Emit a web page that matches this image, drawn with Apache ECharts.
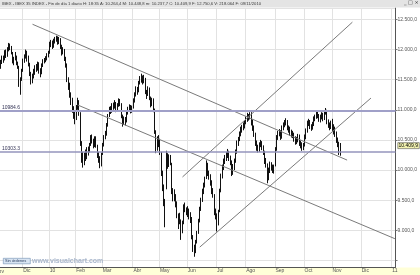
<!DOCTYPE html>
<html><head><meta charset="utf-8">
<script src="https://cdn.jsdelivr.net/npm/echarts@6/dist/echarts.min.js"></script>
<style>html,body{margin:0;padding:0;background:#fff}#c{width:420px;height:275px}</style>
</head><body><div id="c"></div>
<script>
// ---- data ----
const holidays = ['2009-12-24','2009-12-25','2009-12-31','2010-01-01','2010-04-02','2010-04-05'];
const firstDay = [2009, 10, 6];   // 6 Nov 2009
const lastDay = [2011, 0, 5];     // 5 Jan 2011
const monthKeys = ['2009-11','2009-12','2010-01','2010-02','2010-03','2010-04','2010-05','2010-06','2010-07','2010-08','2010-09','2010-10','2010-11','2010-12','2011-01'];
const monthNames = ['Nov','Dic','10','Feb','Mar','Abr','May','Jun','Jul','Ago','Sep','Oct','Nov','Dic','11'];
// [open, close, low, high]
const ohlc = [
[11720,11780,11680,11830],[11790,11850,11760,11900],[11860,11830,11780,11900],[11840,11960,11820,11990],[11950,11900,11860,12000],
[11910,12010,11880,12040],[12000,12080,11970,12110],[12070,12040,11990,12100],[12040,11950,11920,12060],[11940,11800,11770,11960],
[11800,11830,11740,11880],[11850,11880,11820,11960],[11880,11770,11740,11900],[11770,11720,11680,11800],[11700,11420,11380,11730],
[11380,11500,11250,11540],[11510,11640,11480,11680],
[11650,11820,11630,11850],[11820,11880,11780,11920],[11880,11930,11850,12000],[11920,11890,11800,11980],[11880,11760,11720,11900],
[11760,11600,11560,11780],[11600,11480,11420,11630],[11480,11550,11440,11600],[11560,11620,11520,11680],[11620,11700,11580,11740],
[11700,11680,11630,11760],[11680,11760,11650,11800],[11760,11650,11600,11790],[11650,11600,11540,11690],[11610,11740,11590,11770],
[11740,11800,11710,11840],[11800,11820,11770,11860],[11830,11850,11790,11890],[11850,11900,11820,11940],[11900,11940,11870,11980],
[11950,12100,11930,12130],[12100,12120,12040,12160],[12110,12060,12010,12150],[12060,12150,12030,12180],[12150,12170,12100,12210],
[12180,12200,12130,12230],[12200,12130,12080,12220],[12130,12180,12090,12210],[12170,12050,12010,12190],[12040,11950,11900,12080],
[11960,11990,11920,12040],[11990,11850,11810,12010],[11840,11760,11700,11880],[11750,11500,11460,11770],[11490,11380,11330,11540],
[11400,11250,11200,11450],[11240,11150,11080,11290],[11160,11000,10950,11200],[10990,10900,10850,11060],[10920,10850,10760,10990],
[10860,11050,10830,11080],[11050,11150,11000,11200],[11140,10950,10900,11160],[10930,10450,10400,10960],[10420,10200,10120,10480],
[10220,10100,10040,10300],[10120,10250,10080,10290],[10260,10200,10150,10340],[10210,10350,10180,10380],[10340,10300,10240,10390],
[10310,10420,10290,10450],[10420,10550,10400,10580],[10540,10480,10440,10590],[10480,10400,10360,10520],[10400,10520,10380,10560],
[10520,10400,10370,10560],[10390,10250,10200,10420],[10250,10180,10120,10300],[10170,10080,10030,10230],[10090,10250,10060,10290],
[10270,10420,10250,10450],[10420,10550,10390,10580],[10550,10600,10510,10650],[10600,10750,10570,10780],[10750,10900,10720,10930],
[10910,11020,10880,11050],[11010,10980,10930,11060],[10980,11080,10950,11110],[11080,11050,11000,11120],[11050,11120,11020,11160],
[11110,11000,10960,11130],[11000,11080,10980,11110],[11080,11150,11050,11190],[11150,11100,11060,11180],[11090,10900,10860,11110],
[10880,10780,10720,10920],[10790,10850,10750,10890],[10850,10800,10740,10880],[10810,10950,10790,10990],[10950,11000,10920,11050],
[11000,11050,10970,11090],[11050,10980,10940,11080],[10980,11030,10950,11070],
[11050,11150,11020,11190],[11160,11250,11120,11290],[11240,11350,11220,11390],[11340,11300,11250,11380],[11310,11450,11290,11480],
[11460,11500,11420,11560],[11500,11540,11450,11600],[11530,11480,11420,11570],[11480,11520,11440,11580],[11510,11300,11260,11530],
[11290,11250,11180,11330],[11260,11350,11230,11390],[11340,11200,11160,11370],[11190,11100,11040,11220],[11100,11150,11060,11200],
[11160,11000,10960,11190],[10990,10650,10600,11020],[10630,10350,10280,10660],[10360,10500,10320,10560],[10500,10450,10380,10580],
[10470,10300,10250,10520],[10280,9950,9900,10300],[9940,9700,9650,9990],[9690,9500,9400,9760],[9480,9150,9050,9520],
[9700,10250,9680,10320],[10200,10100,10020,10280],[10100,10200,10050,10260],[10200,10150,10080,10250],[10100,9650,9600,10120],
[9620,9600,9480,9700],[9610,9550,9480,9680],[9530,9450,9380,9600],[9420,9250,9200,9480],[9200,9150,9020,9280],
[9170,9200,9100,9290],[9150,8950,8840,9180],[8980,9100,8950,9160],[9120,9400,9100,9430],[9400,9350,9300,9460],[9340,9300,9250,9380],
[9310,9350,9220,9400],[9330,9250,9180,9360],[9260,9200,9120,9300],[9190,8900,8850,9220],[8880,8700,8640,8920],
[8700,8650,8560,8760],[8660,8800,8620,8840],[8810,8950,8780,8990],[8960,9150,8940,9190],[9160,9350,9130,9390],
[9350,9500,9320,9540],[9500,9650,9470,9690],[9640,9750,9600,9790],[9750,9850,9710,9890],[9870,10100,9850,10160],
[10090,9950,9900,10120],[9950,9900,9840,9990],[9900,9800,9740,9930],[9800,9650,9600,9830],[9660,9600,9540,9700],
[9580,9300,9250,9600],[9300,9250,9180,9360],
[9240,9100,8980,9280],[9110,9300,9080,9340],[9320,9650,9300,9690],[9660,9900,9630,9940],[9890,10050,9860,10090],
[10040,10150,10000,10190],[10150,10200,10100,10250],[10200,10250,10150,10300],[10250,10300,10200,10350],[10290,10200,10150,10320],
[10200,10150,10080,10240],[10140,9950,9900,10160],[9960,10050,9920,10100],[10050,10150,10000,10190],[10150,10300,10120,10340],
[10300,10450,10270,10490],[10450,10500,10400,10550],[10510,10600,10480,10640],[10600,10680,10560,10720],[10670,10700,10620,10750],
[10700,10750,10660,10790],[10740,10780,10690,10820],
[10800,10850,10760,10890],[10850,10900,10800,10950],[10890,10870,10820,10930],[10880,10950,10840,10960],[10940,10800,10740,10960],
[10800,10700,10650,10840],[10700,10600,10550,10740],[10590,10450,10400,10620],[10450,10380,10320,10490],[10380,10350,10290,10420],
[10350,10420,10300,10460],[10420,10450,10380,10500],[10440,10380,10330,10480],[10380,10300,10250,10410],[10290,10150,10100,10320],
[10160,10100,10040,10200],[10090,9850,9780,10110],[9860,10000,9830,10040],[10000,10100,9950,10140],[10090,10050,9990,10130],
[10050,10000,9950,10090],[9990,10050,9940,10090],
[10080,10350,10060,10380],[10350,10550,10320,10580],[10550,10600,10500,10650],[10600,10620,10560,10680],[10610,10550,10500,10660],
[10550,10700,10520,10740],[10700,10750,10660,10790],[10750,10780,10710,10830],[10790,10800,10740,10860],[10800,10700,10660,10830],
[10700,10680,10620,10740],[10680,10620,10570,10720],[10620,10600,10540,10670],[10610,10580,10530,10650],[10580,10520,10470,10620],
[10510,10480,10420,10560],[10480,10500,10430,10550],[10500,10550,10460,10600],[10550,10450,10400,10590],[10450,10420,10360,10490],
[10420,10380,10320,10460],[10380,10400,10330,10450],
[10420,10550,10390,10590],[10550,10650,10510,10690],[10650,10780,10620,10820],[10780,10800,10730,10850],[10800,10720,10680,10830],
[10720,10700,10650,10760],[10710,10760,10670,10800],[10760,10850,10730,10890],[10850,10880,10810,10920],[10880,10950,10850,10990],
[10950,10900,10860,10990],[10900,10850,10800,10930],[10840,10880,10790,10920],[10880,10920,10840,10960],[10920,10850,10810,10950],
[10860,10950,10830,10990],[10960,10980,10920,11030],[10970,10800,10760,11000],[10800,10750,10700,10840],[10750,10720,10660,10790],
[10720,10780,10680,10820],
[10790,10700,10650,10850],[10700,10650,10590,10760],[10660,10600,10550,10720],[10600,10500,10450,10640],[10500,10450,10380,10540],
[10440,10300,10250,10470],[10264.4,10409.9,10237.7,10448.8]
];
const levels = [10984.6, 10303.3];
const levelLabels = ['10984.6', '10303.3'];
const lastPrice = 10409.9;
const lastPriceLabel = '10.409,9';
const trendA = [['2009-12-10', 12420], ['2010-11-16', 10165]];
const trendB = [['2010-02-02', 11080], ['2011-01-05', 8860]];
const trendC = [['2010-06-14', 8720], ['2010-12-10', 11195]];
const trendD = [['2010-05-26', 9885], ['2010-11-22', 12455]];
const headerText = 'IBEX - IBEX 35 INDEX - Fin de día 1 diario H: 18:35 A: 10.264,4 M: 10.448,8 m: 10.237,7 C: 10.409,9 F: 12.750,6 V: 218.064 F: 09/11/2010';

// ---- categories (trading days) ----
function buildDates() {
  const out = [];
  let t = Date.UTC(firstDay[0], firstDay[1], firstDay[2]);
  const end = Date.UTC(lastDay[0], lastDay[1], lastDay[2]);
  while (t <= end) {
    const d = new Date(t);
    const wd = d.getUTCDay();
    const s = d.toISOString().slice(0, 10);
    if (wd !== 0 && wd !== 6 && holidays.indexOf(s) < 0) out.push(s);
    t += 86400000;
  }
  return out;
}
const dates = buildDates();
function isMonthStart(i) { return i > 0 && dates[i].slice(0, 7) !== dates[i - 1].slice(0, 7); }
function monthLabel(v) { const k = monthKeys.indexOf(v.slice(0, 7)); return k >= 0 ? monthNames[k] : ''; }
function fmtES(v) {
  const s = Math.round(v).toString().replace(/\B(?=(\d{3})+(?!\d))/g, '.');
  return s + ',0';
}

const FONT = 'Liberation Sans';
const chart = echarts.init(document.getElementById('c'), null, { renderer: 'canvas' });
const trendStyle = { color: '#7a7a7a', width: 1 };
function trendSeries(d) {
  return { type: 'line', data: d, showSymbol: false, symbol: 'none', silent: true, lineStyle: trendStyle, z: 4, animation: false };
}
const graphics = [
  { type: 'rect', left: 0, top: 0, shape: { width: 420, height: 7.5 }, style: { fill: '#e4e4e4' }, z: 100 },
  { type: 'text', left: 2, top: 1.5, style: { text: headerText, fontSize: 4.2, fill: '#3a3a3a', fontFamily: FONT }, z: 101 },
  { type: 'text', left: 404, top: 0.5, style: { text: '_ □ ×', fontSize: 5, fill: '#333', fontFamily: 'DejaVu Sans' }, z: 101 },
  { type: 'rect', left: 0, top: 267.5, shape: { width: 420, height: 8 }, style: { fill: '#ffffd8' }, z: -1, silent: true },
  { type: 'rect', left: 3, top: 258, shape: { width: 27, height: 5.5 }, style: { fill: '#d8e4f2', stroke: '#6f8db0', lineWidth: 0.6 }, z: 101 },
  { type: 'text', left: 5, top: 258.8, style: { text: 'Sin órdenes', fontSize: 4, fill: '#2a3f60', fontFamily: FONT }, z: 102 },
  { type: 'text', left: 32, top: 257.5, style: { text: 'www.visualchart.com', fontSize: 7, fontWeight: 'bold', fill: '#a9b7cc', fontFamily: FONT }, z: 101 },
  { type: 'text', left: -5, top: 269, style: { text: 'Nov', fontSize: 5, fill: '#555', fontFamily: FONT }, z: 101 }
];
chart.setOption({
  animation: false,
  backgroundColor: '#ffffff',
  textStyle: { fontFamily: FONT },
  grid: { left: 0, right: 24, top: 8, bottom: 8 },
  xAxis: {
    type: 'category', data: dates, boundaryGap: true,
    axisLine: { lineStyle: { color: '#555', width: 1 } },
    axisTick: { interval: (i) => isMonthStart(i), length: 5, lineStyle: { color: '#555' } },
    axisLabel: { interval: (i) => isMonthStart(i), formatter: (v) => monthLabel(v), fontSize: 5, color: '#555', align: 'left', margin: 1, fontFamily: FONT },
    splitLine: { show: true, interval: (i) => isMonthStart(i), lineStyle: { color: '#e2e2e2', width: 1 } }
  },
  yAxis: {
    type: 'value', position: 'right', min: 8390, max: 12690, splitNumber: 8,
    axisLine: { show: true, lineStyle: { color: '#555' } },
    axisTick: { show: true, length: 2, lineStyle: { color: '#777' } },
    axisLabel: { fontSize: 5, color: '#555', margin: 2, fontFamily: FONT, showMinLabel: false, showMaxLabel: false,
      formatter: (v) => (v % 500 === 0 && v >= 9000) ? fmtES(v) : '' },
    splitLine: { show: true, lineStyle: { color: '#e2e2e2', width: 1 } }
  },
  series: [
    {
      type: 'candlestick', data: ohlc, barMaxWidth: 2, z: 3,
      itemStyle: { color: '#ffffff', color0: '#111111', borderColor: '#111111', borderColor0: '#111111', borderWidth: 1 },
      markLine: {
        silent: true, symbol: ['none', 'none'], animation: false,
        data: [
          { yAxis: levels[0], lineStyle: { color: '#a0a0c8', width: 2, type: 'solid' },
            label: { show: true, position: 'insideStartTop', formatter: levelLabels[0], fontSize: 5, color: '#333355', distance: [2, 1], fontFamily: FONT } },
          { yAxis: levels[1], lineStyle: { color: '#9494bc', width: 1.5, type: 'solid' },
            label: { show: true, position: 'insideStartTop', formatter: levelLabels[1], fontSize: 5, color: '#333355', distance: [2, 1], fontFamily: FONT } }
        ]
      }
    },
    trendSeries(trendA), trendSeries(trendB), trendSeries(trendC), trendSeries(trendD)
  ],
  graphic: graphics
});
// current price tag on the right axis, placed through the library's scale
const py = chart.convertToPixel({ gridIndex: 0 }, [dates[ohlc.length - 1], lastPrice])[1];
graphics.push({ type: 'rect', left: 397.5, top: py - 3, shape: { width: 21.5, height: 6 }, style: { fill: '#f2f2b0', stroke: '#555', lineWidth: 0.6 }, z: 110 });
graphics.push({ type: 'text', left: 398.5, top: py - 2.4, style: { text: lastPriceLabel, fontSize: 5, fill: '#000', fontFamily: FONT }, z: 111 });
chart.setOption({ graphic: graphics });
</script>
</body></html>
